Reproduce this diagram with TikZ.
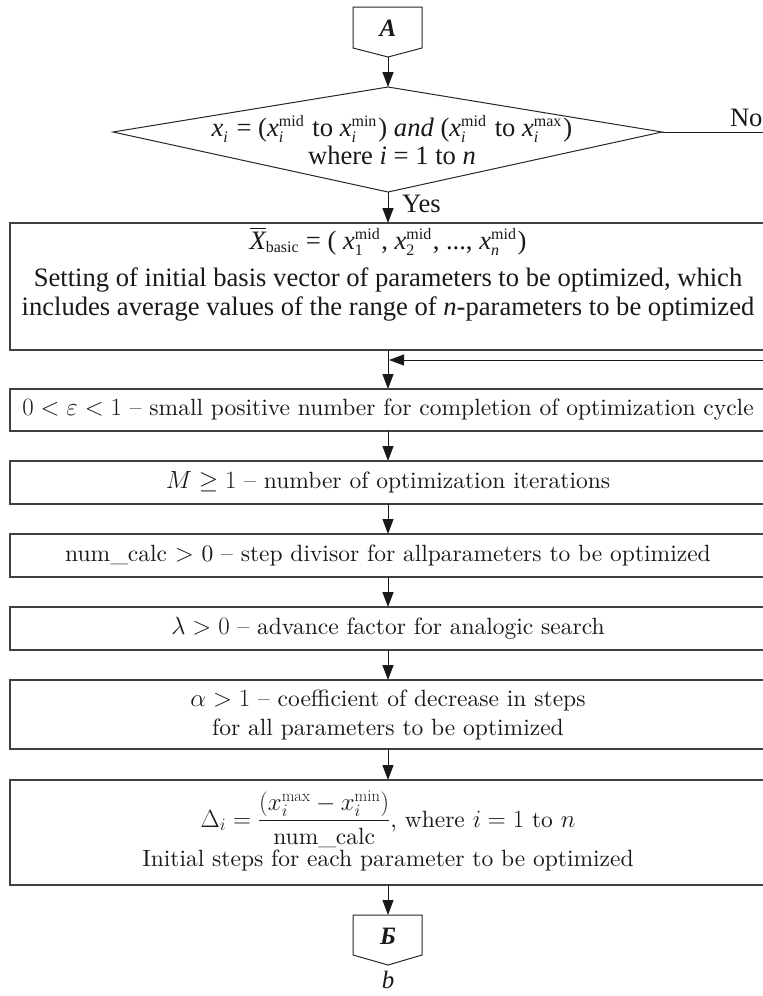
\documentclass[tikz,border=0pt]{standalone}
\usepackage{amsmath}
\usepackage{fontspec}
\usetikzlibrary{arrows.meta}
\newfontfamily\uf{Liberation Serif}
\newfontfamily\lmten{lmroman10-regular}[Extension=.otf, Ligatures=TeX, ItalicFont=lmroman10-italic, BoldFont=lmroman10-bold]
\newcommand\lowfont{\lmten\fontsize{23.5}{29}\selectfont}
\newcommand\upfont{\uf\fontsize{26.6}{29}\selectfont}
\newcommand\sm[1]{\text{\fontsize{16}{16}\selectfont #1}}
\newcommand\xx[2]{\textit{x}$_{\sm{\itshape #1}}^{\sm{#2}}$\hspace{1.5pt}}
\newcommand\xs[2]{\textit{x}$_{\sm{#1}}^{\sm{#2}}$\hspace{1pt}}
\tikzset{
  every node/.style={inner sep=0pt, outer sep=0pt, text=black!90},
  frame/.style={draw=black!75, line width=1.3pt, minimum width=756pt, inner sep=0pt, font=\lowfont},
  outline/.style={draw=black!85, line width=1pt},
  flow/.style={draw=black!90, line width=1pt, -{Triangle[length=15pt,width=11pt]}},
  plain/.style={draw=black!90, line width=1pt},
  upper/.style={font=\upfont},
  lower/.style={font=\lowfont},
  conlabel/.style={font=\uf\bfseries\itshape\fontsize{25}{28}\selectfont}
}
\begin{document}
\begin{tikzpicture}[x=1pt,y=-1pt]
\path[use as bounding box] (0,0) rectangle (763,996);
\clip (0,0) rectangle (763,996);

% off-page connector A
\coordinate (Atip) at (388,57);
\draw[outline] (353,7) -- (422,7) -- (422,48) -- (Atip) -- (353,48) -- cycle;
\node[conlabel] (A) at (388,28) {A};

% decision
\coordinate (dN) at (388,87);
\coordinate (dE) at (662,132);
\coordinate (dS) at (388,192);
\coordinate (dW) at (113,132);
\draw[outline] (dN) -- (dE) -- (dS) -- (dW) -- cycle;
\node[upper, anchor=base] (d1) at (392,136) {\xx{i}{} = (\xx{i}{mid} to \xx{i}{min}) \textit{and} (\xx{i}{mid} to \xx{i}{max})};
\node[upper, anchor=base] (d2) at (392,164) {where \textit{i} = 1 to \textit{n}};
\coordinate (noEnd) at (770,132);
\node[upper, anchor=base west] (no) at (730,126) {No};

\draw[flow] (Atip) -- (dN);

% basic vector box
\node[frame, minimum height=127pt] (basic) at (388,286.5) {};
\node[upper, anchor=base] (b1) at (388,249) {$\overline{\textit{X}}_{\sm{basic}}$ = ( \xs{1}{mid}, \xs{2}{mid}, ..., \xs{\itshape n}{mid})};
\node[upper, anchor=base] (b2) at (388,286) {Setting of initial basis vector of parameters to be optimized, which};
\node[upper, anchor=base] (b3) at (388,315) {includes average values of the range of \textit{n}-parameters to be optimized};

\draw[flow] (dS) -- (basic.north);
\node[upper, anchor=base west] (yes) at (402,212) {Yes};
\draw[plain] (dE) -- (noEnd);

% parameter boxes
\node[frame, minimum height=42pt] (eps) at (388,410) {$0<\varepsilon<1$ \textendash{} small positive number for completion of optimization cycle};
\node[frame, minimum height=43pt] (M) at (388,482.5) {$M\geq 1$ \textendash{} number of optimization iterations};
\node[frame, minimum height=43pt] (num) at (388,555.5) {num\_calc $>$ 0 \textendash{} step divisor for allparameters to be optimized};
\node[frame, minimum height=43pt] (lam) at (388,628.5) {$\lambda>0$ \textendash{} advance factor for analogic search};
\node[frame, minimum height=69pt, align=center] (alpha) at (388,714.5) {$\alpha>1$ \textendash{} coefficient of decrease in steps\\for all parameters to be optimized};
\node[frame, minimum height=105pt] (delta) at (388,832.5) {};
\node[lower, anchor=base] (e1) at (388,827) {$\Delta_i=\dfrac{(x_i^{\mathrm{max}}-x_i^{\mathrm{min}})}{\text{num\_calc}}$, where $i=1$ to $n$};
\node[lower, anchor=base] (e2) at (388,866) {Initial steps for each parameter to be optimized};

% feedback
\coordinate (fbStart) at (770,360);
\coordinate (fbEnd) at (389,360);
\draw[flow] (fbStart) -- (fbEnd);

\draw[flow] (basic.south) -- (eps.north);
\draw[flow] (eps.south) -- (M.north);
\draw[flow] (M.south) -- (num.north);
\draw[flow] (num.south) -- (lam.north);
\draw[flow] (lam.south) -- (alpha.north);
\draw[flow] (alpha.south) -- (delta.north);

% off-page connector B
\coordinate (Btop) at (388,915);
\coordinate (Btip) at (388,965);
\draw[outline] (353,915) -- (422,915) -- (422,955) -- (Btip) -- (353,955) -- cycle;
\node[conlabel] (B) at (388,936) {Б};
\draw[flow] (delta.south) -- (Btop);
\node[font=\uf\itshape\fontsize{25}{28}\selectfont] (bl) at (388,980) {b};
\end{tikzpicture}
\end{document}
